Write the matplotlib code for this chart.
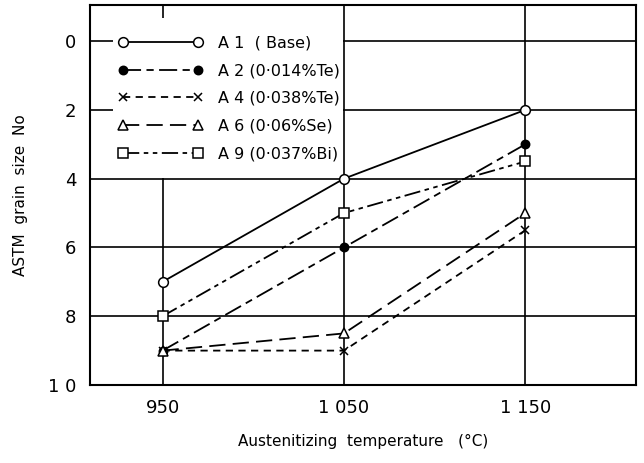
import matplotlib
matplotlib.use("Agg")
import matplotlib.pyplot as plt
from matplotlib.patches import Rectangle

temps = [950, 1050, 1150]
a1 = [7, 4, 2]
a2 = [9, 6, 3]
a4 = [9, 9, 5.5]
a6 = [9, 8.5, 5]
a9 = [8, 5, 3.5]
labels = ["A 1  ( Base)", "A 2 (0·014%Te)", "A 4 (0·038%Te)", "A 6 (0·06%Se)", "A 9 (0·037%Bi)"]
xticks = [950, 1050, 1150]
xticklabels = ["950", "1 050", "1 150"]
yticks = [0, 2, 4, 6, 8, 10]
yticklabels = ["0", "2", "4", "6", "8", "1 0"]

plt.rcParams['font.family'] = ['DejaVu Sans']
fig = plt.figure(figsize=(6.44, 4.63), dpi=100)
ax = fig.add_axes([90/644, 1 - 385/463, (636-90)/644, (385-5)/463])

kw = dict(color="black", lw=1.3, markersize=7, markerfacecolor="white", markeredgecolor="black", markeredgewidth=1.1)
ax.plot(temps, a1, ls="-", marker="o", label=labels[0], **kw)
ax.plot(temps, a2, ls=(0, (10, 3, 4, 3)), marker="o", label=labels[1],
        **{**kw, "markerfacecolor": "black", "markersize": 6})
ax.plot(temps, a4, ls=(0, (4, 3)), marker="x", label=labels[2], **{**kw, "markersize": 6})
ax.plot(temps, a6, ls=(0, (9, 4)), marker="^", label=labels[3], **kw)
ax.plot(temps, a9, ls=(0, (9, 2.5, 2.5, 2.5, 2.5, 2.5)), marker="s", label=labels[4], **kw)

ax.set_xlim(910, 1211)
ax.set_ylim(10, -1.05)
ax.set_xticks(xticks)
ax.set_xticklabels(xticklabels, fontsize=13)
ax.set_yticks(yticks)
ax.set_yticklabels(yticklabels, fontsize=13)
ax.tick_params(length=0, pad=10)
ax.grid(True, color="black", lw=1.2)
for s in ax.spines.values():
    s.set_linewidth(1.5)

ax.set_xlabel("Austenitizing  temperature   (°C)", fontsize=11, labelpad=12)
ax.set_ylabel("ASTM  grain  size  No", fontsize=11, labelpad=14)

# white panel behind the key, masking grid lines up to the 1050 line and down to the 4 line
ax.add_patch(Rectangle((0.042, 0.546), 0.421, 0.42, transform=ax.transAxes,
                       facecolor="white", edgecolor="none", zorder=1.6))

leg = ax.legend(loc="upper left", bbox_to_anchor=(0.051, 0.92), numpoints=2, handlelength=5.3,
                frameon=False, fontsize=11.5, labelspacing=0.8, borderpad=0,
                handletextpad=1.0, borderaxespad=0)

fig.savefig("out.png", dpi=100)
